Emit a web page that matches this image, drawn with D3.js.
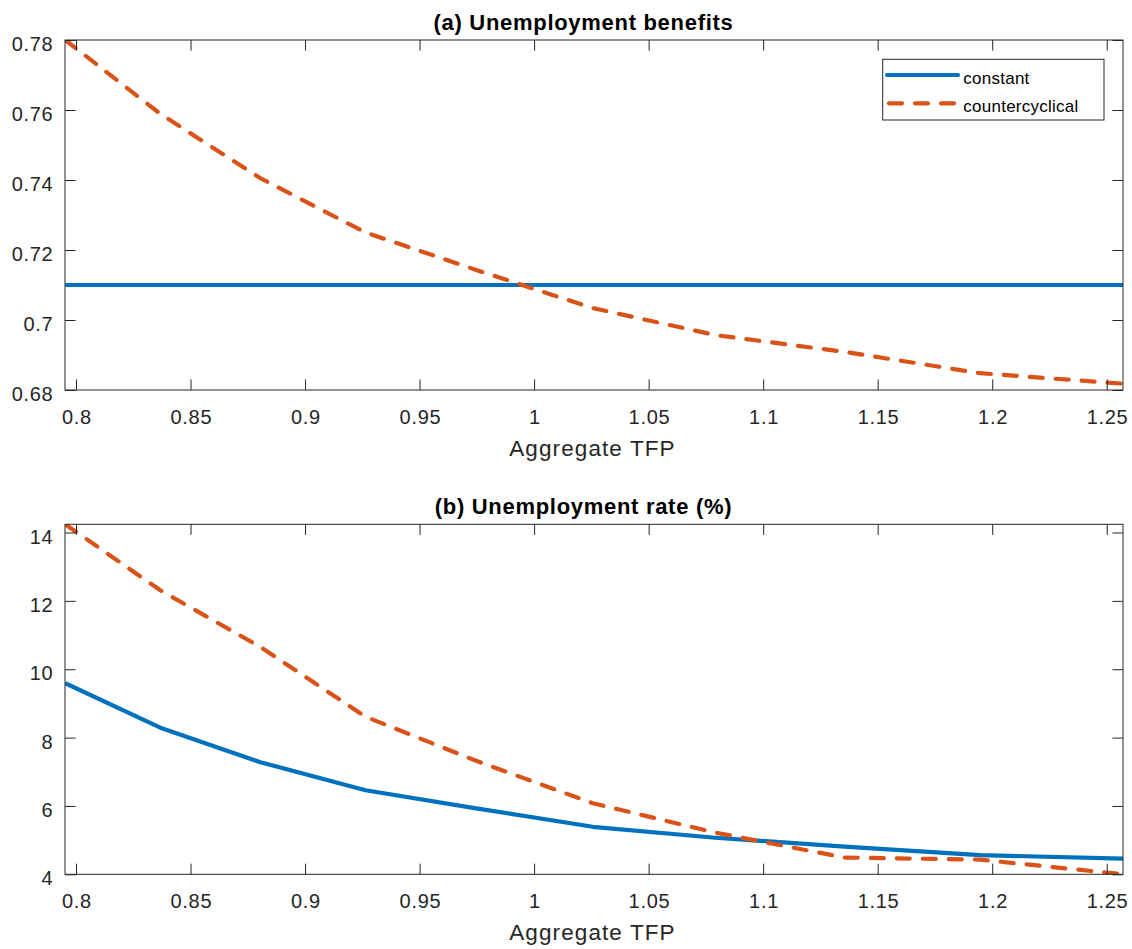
<!DOCTYPE html>
<html>
<head>
<meta charset="utf-8">
<script src="https://cdn.jsdelivr.net/npm/d3@7"></script>
<style>
  html, body { margin: 0; padding: 0; background: #fff; }
  svg { display: block; }
  text { font-family: "Liberation Sans", Arial, Helvetica, sans-serif; }
</style>
</head>
<body>
<svg id="chart" width="1132" height="949"></svg>
<script>
// ---- data ----
const tfp = [0.7953, 0.8368, 0.8805, 0.9264, 0.9747, 1.0256, 1.0791, 1.1355, 1.1947, 1.2571];
const benefitsConstant = [0.71, 0.71, 0.71, 0.71, 0.71, 0.71, 0.71, 0.71, 0.71, 0.71];
const benefitsCounter = [0.780, 0.7589, 0.7405, 0.7250, 0.7143, 0.7034, 0.6957, 0.6909, 0.6848, 0.6818];
const unempConstant = [9.59, 8.29, 7.28, 6.46, 5.93, 5.39, 5.07, 4.81, 4.56, 4.46];
const unempCounter = [14.24, 12.31, 10.65, 8.61, 7.32, 6.08, 5.22, 4.49, 4.43, 4.00];
const xTicks = [0.8, 0.85, 0.9, 0.95, 1, 1.05, 1.1, 1.15, 1.2, 1.25];
const yTicksA = [0.68, 0.7, 0.72, 0.74, 0.76, 0.78];
const yTicksB = [4, 6, 8, 10, 12, 14];
const seriesNames = ["constant", "countercyclical"];
const titles = ["(a) Unemployment benefits", "(b) Unemployment rate (%)"];
const xLabel = "Aggregate TFP";

// ---- layout ----
const svg = d3.select("#chart");
const W = 1132, H = 949;
const left = 65, plotW = 1058, plotH = 350;
const tickLen = 10.6;
const BLUE = "#0072BD", ORANGE = "#D95319", AX = "#262626";

const x = d3.scaleLinear().domain([0.7952, 1.2571]).range([0, plotW]);

function panel(top, yDomain, yTicks, ySeries, title, withLegend, clipId) {
  const y = d3.scaleLinear().domain(yDomain).range([plotH, 0]);
  const g = svg.append("g").attr("transform", `translate(${left},${top})`);

  g.append("defs").append("clipPath").attr("id", clipId)
    .append("rect").attr("x", 0).attr("y", 0).attr("width", plotW).attr("height", plotH);

  // lines
  const line = d3.line().x((d, i) => x(tfp[i])).y(d => y(d));
  const lg = g.append("g").attr("clip-path", `url(#${clipId})`);
  lg.append("path").datum(ySeries[0]).attr("d", line)
    .attr("fill", "none").attr("stroke", BLUE).attr("stroke-width", 4.2)
    .attr("stroke-linejoin", "round");
  lg.append("path").datum(ySeries[1]).attr("d", line)
    .attr("fill", "none").attr("stroke", ORANGE).attr("stroke-width", 4.2)
    .attr("stroke-dasharray", "13 13").attr("stroke-linecap", "round")
    .attr("stroke-linejoin", "round");

  // axes
  const styleAxis = sel => {
    sel.select(".domain").remove();
    sel.selectAll(".tick line").attr("stroke", AX).attr("stroke-width", 1);
    sel.selectAll(".tick text").attr("fill", AX)
      .style("font-size", "20px").style("letter-spacing", "0.7px");
  };
  const fmt = d => String(d);

  const gb = g.append("g").attr("transform", `translate(0,${plotH})`)
    .call(d3.axisBottom(x).tickValues(xTicks).tickFormat(fmt).tickSizeInner(-tickLen).tickSizeOuter(0));
  styleAxis(gb);
  gb.selectAll(".tick text").attr("y", 34).attr("dy", 0).attr("dx", 0.35);

  const gt = g.append("g")
    .call(d3.axisTop(x).tickValues(xTicks).tickFormat("").tickSizeInner(-tickLen).tickSizeOuter(0));
  styleAxis(gt);

  const gl = g.append("g")
    .call(d3.axisLeft(y).tickValues(yTicks).tickFormat(fmt).tickSizeInner(-tickLen).tickSizeOuter(0));
  styleAxis(gl);
  gl.selectAll(".tick text").attr("x", -11.6).attr("dy", 10.5);

  const gr = g.append("g").attr("transform", `translate(${plotW},0)`)
    .call(d3.axisRight(y).tickValues(yTicks).tickFormat("").tickSizeInner(-tickLen).tickSizeOuter(0));
  styleAxis(gr);

  // box
  g.append("rect").attr("x", 0).attr("y", 0).attr("width", plotW).attr("height", plotH)
    .attr("fill", "none").attr("stroke", AX).attr("stroke-width", 1);

  // title
  g.append("text").attr("x", 518.5).attr("y", -10.5)
    .attr("text-anchor", "middle").attr("fill", "#000")
    .style("font-size", "22px").style("font-weight", "bold").style("letter-spacing", "0.7px")
    .text(title);

  // x label
  g.append("text").attr("x", 527.5).attr("y", plotH + 66)
    .attr("text-anchor", "middle").attr("fill", AX)
    .style("font-size", "22.5px").style("letter-spacing", "1.1px")
    .text(xLabel);

  if (withLegend) {
    const lx = 882.7 - left, ly = 59.3 - top;
    const leg = g.append("g");
    leg.append("rect").attr("x", lx).attr("y", ly).attr("width", 221.3).attr("height", 60.7)
      .attr("fill", "#fff").attr("stroke", AX).attr("stroke-width", 1);
    const rows = [
      { name: seriesNames[0], color: BLUE, dash: null, ly: 75, ty: 84.3 },
      { name: seriesNames[1], color: ORANGE, dash: "13 13", ly: 103.3, ty: 111.7 }
    ];
    rows.forEach(r => {
      const p = leg.append("line")
        .attr("x1", 887 - left + (r.dash ? 2 : 0)).attr("x2", 958 - left - (r.dash ? 2 : 0))
        .attr("y1", r.ly - top).attr("y2", r.ly - top)
        .attr("stroke", r.color).attr("stroke-width", 4.2).attr("stroke-linecap", "round");
      if (r.dash) p.attr("stroke-dasharray", "13 13");
      leg.append("text").attr("x", 963.3 - left).attr("y", r.ty - top)
        .attr("fill", "#000").style("font-size", "17px").style("letter-spacing", "0.25px")
        .text(r.name);
    });
  }
}

panel(40, [0.68, 0.78], yTicksA, [benefitsConstant, benefitsCounter], titles[0], true, "clipA");
panel(524.3, [4, 14.24], yTicksB, [unempConstant, unempCounter], titles[1], false, "clipB");
</script>
</body>
</html>
